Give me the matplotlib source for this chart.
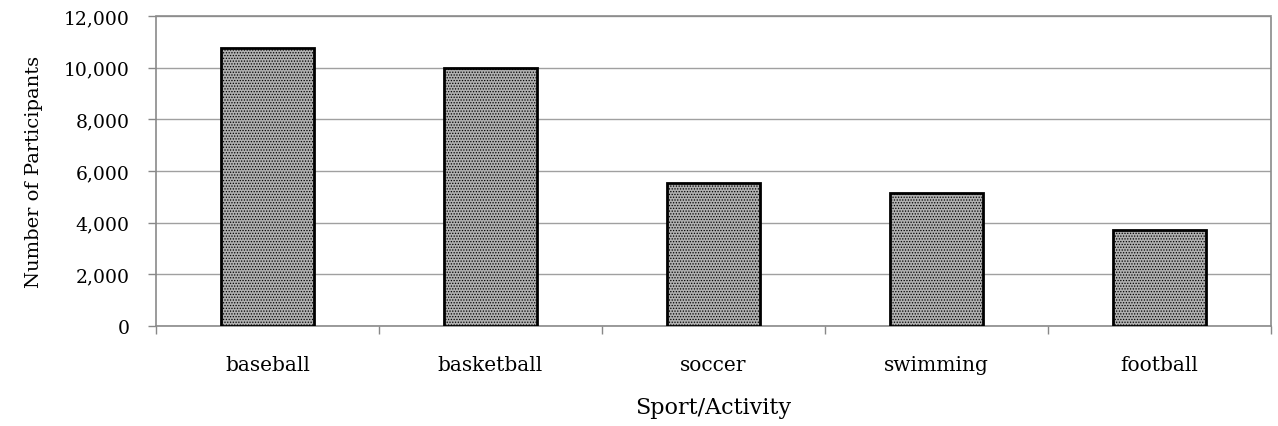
import matplotlib
matplotlib.use("Agg")
import matplotlib.pyplot as plt
from matplotlib.ticker import FuncFormatter, FixedLocator

# --- Data ---
sports = ["baseball", "basketball", "soccer", "swimming", "football"]
participants = [10770, 10000, 5530, 5150, 3700]
y_ticks = [0, 2000, 4000, 6000, 8000, 10000, 12000]

plt.rcParams["font.family"] = ["DejaVu Serif"]
plt.rcParams["hatch.color"] = "#555555"
plt.rcParams["hatch.linewidth"] = 0.6

fig = plt.figure(figsize=(12.78, 4.27), dpi=100)
ax = fig.add_axes([0.122, 0.234, 0.8725, 0.726])

x = range(len(sports))
ax.bar(x, participants, width=0.42, facecolor="#b0b0b0", edgecolor="black",
       linewidth=2, hatch="......", zorder=3)

ax.set_xlim(-0.5, len(sports) - 0.5)
ax.set_ylim(0, 12000)
ax.set_yticks(y_ticks)
ax.yaxis.set_major_formatter(FuncFormatter(lambda v, p: f"{int(v):,}"))
ax.grid(axis="y", color="#a0a0a0", linewidth=1, zorder=0)

# category labels without ticks; ticks at category boundaries
ax.set_xticks(list(x))
ax.set_xticklabels(sports)
ax.tick_params(axis="x", length=0, pad=21, labelsize=14.5)
ax.xaxis.set_minor_locator(FixedLocator([i - 0.5 for i in range(len(sports) + 1)]))
ax.tick_params(axis="x", which="minor", length=6, color="#888888", width=1)
ax.tick_params(axis="y", length=6, color="#888888", width=1, labelsize=13.5, pad=13)

for side in ["top", "left", "right", "bottom"]:
    ax.spines[side].set_color("#8a8a8a")
    ax.spines[side].set_linestyle((0, (1, 1)))
    ax.spines[side].set_linewidth(1.2)

ax.set_ylabel("Number of Participants", fontsize=14, labelpad=15)
ax.set_xlabel("Sport/Activity", fontsize=16, labelpad=16)

fig.savefig("out.png", dpi=100)
